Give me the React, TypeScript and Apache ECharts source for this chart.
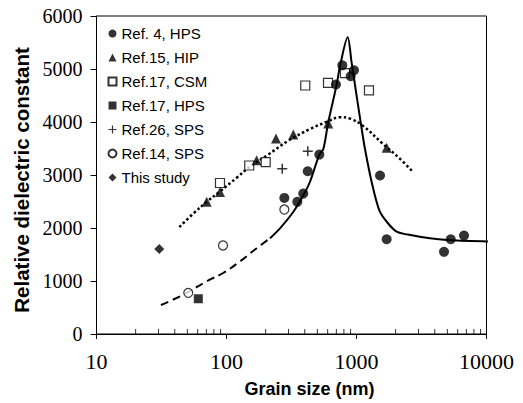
import React, { useEffect, useRef } from "react";
import * as echarts from "echarts";

const xTickLabels = [10, 100, 1000, 10000];
const minorTicks = [20, 30, 40, 50, 60, 70, 80, 90, 200, 300, 400, 500, 600, 700, 800, 900, 2000, 3000, 4000, 5000, 6000, 7000, 8000, 9000];

const ref4HPS = [[278.6, 2568], [350.6, 2493], [389.5, 2649], [421.5, 3070], [518, 3385], [695, 4708], [778, 5069], [902, 4863], [957, 4976], [1517, 2991], [1706, 1788], [4712, 1550], [5309, 1788], [6714, 1857]];
const ref15HIP = [[70.4, 2493], [89.1, 2681], [170.6, 3280], [240.3, 3688], [326.6, 3763], [606.5, 3974], [1706, 3516]];
const ref17CSM = [[89.1, 2849], [149.6, 3179], [200.2, 3242], [403.6, 4689], [603.8, 4740], [815.5, 4923], [1247, 4596]];
const ref17HPS = [[60.7, 665]];
const ref26SPS = [[268.5, 3117], [422, 3450]];
const ref14SPS = [[50.8, 777], [94, 1670], [278.6, 2349]];
const thisStudy = [[30.4, 1606]];

const curveDashed = [[31.3, 547], [39, 651], [52.4, 809], [70.4, 996], [94.4, 1151], [127, 1370], [170.6, 1619], [216, 1806]];
const curveSolid = [[216, 1806], [258, 1994], [327, 2306], [390, 2617], [438, 2868], [518, 3385], [556, 3491], [606, 3991], [704, 4708], [746, 5051], [855, 5597], [918, 5114], [1003, 4489], [1097, 3866], [1162, 3491], [1308, 2868], [1496, 2336], [1706, 2119], [2037, 1932], [2735, 1857], [3673, 1806], [4942, 1775], [10035, 1745], [19100, 1726]];
const curveDotted = [[43.4, 2018], [55.6, 2274], [70.4, 2493], [89, 2690], [120, 2950], [150, 3150], [204, 3366], [300, 3650], [438, 3866], [600, 4010], [746, 4090], [900, 4060], [1122, 3927], [1601, 3585], [2163, 3304], [2661, 3080]];

const legendNames = ["Ref. 4, HPS", "Ref.15, HIP", "Ref.17, CSM", "Ref.17, HPS", "Ref.26, SPS", "Ref.14, SPS", "This study"];

const plusPath = "path://M3.4,0H4.6V3.4H8V4.6H4.6V8H3.4V4.6H0V3.4H3.4Z";
const serif = "Liberation Serif";
const sans = "Liberation Sans";

export default function App() {
  const ref = useRef<HTMLDivElement>(null);
  useEffect(() => {
    document.body.style.margin = "0";
    const chart = echarts.init(ref.current!, null, { renderer: "svg" });
    const black = "#000";
    const option: any = {
      animation: false,
      backgroundColor: "#fff",
      textStyle: { fontFamily: sans },
      grid: { left: 96.5, right: 36.5, top: 16, bottom: 66.5, show: true, borderColor: black, borderWidth: 1, backgroundColor: "transparent" },
      legend: {
        data: legendNames,
        orient: "vertical",
        left: 102.5,
        top: 21,
        itemGap: 9,
        itemWidth: 8,
        itemHeight: 8,
        textStyle: { fontFamily: sans, fontSize: 15, color: black },
        selectedMode: false,
      },
      xAxis: {
        type: "log",
        logBase: 10,
        min: 10,
        max: 10000,
        name: "Grain size (nm)",
        nameLocation: "middle",
        nameGap: 46,
        nameTextStyle: { fontFamily: sans, fontWeight: "bold", fontSize: 18, color: black, padding: [0, 0, 0, 36] },
        axisLine: { lineStyle: { color: black, width: 1 } },
        axisTick: { inside: false, length: 5, lineStyle: { color: black } },
        axisLabel: {
          margin: 16.5,
          color: black,
          fontSize: 22,
          fontFamily: serif,
          formatter: (v: number) => (xTickLabels.includes(Math.round(v)) ? String(Math.round(v)) : ""),
        },
        splitLine: { show: false },
      },
      yAxis: {
        type: "value",
        min: 0,
        max: 6000,
        interval: 1000,
        name: "Relative dielectric constant",
        nameLocation: "middle",
        nameGap: 61,
        nameTextStyle: { fontFamily: sans, fontWeight: "bold", fontSize: 20.5, color: black, padding: [0, 10, 0, 0] },
        axisLine: { show: true, lineStyle: { color: black, width: 1 } },
        axisTick: { show: true, inside: false, length: 6, lineStyle: { color: black } },
        axisLabel: {
          margin: 14,
          color: black,
          fontSize: 20,
          fontFamily: serif,
          formatter: (v: number) => String(v),
        },
        splitLine: { show: false },
      },
      series: [
        {
          name: "minor",
          type: "scatter",
          data: minorTicks.map((v) => [v, 0]),
          symbol: "rect",
          symbolSize: [1, 5],
          symbolOffset: [0, -2.5],
          itemStyle: { color: black },
          silent: true,
          clip: false,
          z: 1,
        },
        {
          name: "dashed",
          type: "line",
          data: curveDashed,
          smooth: 0.4,
          showSymbol: false,
          lineStyle: { color: black, width: 2, type: [8, 5] },
        },
        {
          name: "solid",
          type: "line",
          data: curveSolid,
          smooth: 0.3,
          showSymbol: false,
          clip: false,
          lineStyle: { color: black, width: 2 },
        },
        {
          name: "dotted",
          type: "line",
          data: curveDotted,
          smooth: 0.4,
          showSymbol: false,
          lineStyle: { color: black, width: 2.5, type: [2.5, 2.5] },
        },
        { name: "Ref.17, CSM", type: "scatter", data: ref17CSM, symbol: "rect", symbolSize: 9, itemStyle: { color: "#fff", borderColor: black, borderWidth: 1.2 }, z: 3 },
        { name: "Ref.15, HIP", type: "scatter", data: ref15HIP, symbol: "triangle", symbolSize: 10, itemStyle: { color: black }, z: 3 },
        { name: "Ref.17, HPS", type: "scatter", data: ref17HPS, symbol: "rect", symbolSize: 9, itemStyle: { color: black }, z: 3 },
        { name: "Ref.26, SPS", type: "scatter", data: ref26SPS, symbol: plusPath, symbolSize: 10, itemStyle: { color: black }, z: 3 },
        { name: "Ref.14, SPS", type: "scatter", data: ref14SPS, symbol: "circle", symbolSize: 9, itemStyle: { color: "#fff", borderColor: black, borderWidth: 1.2 }, z: 3 },
        { name: "This study", type: "scatter", data: thisStudy, symbol: "diamond", symbolSize: 10, itemStyle: { color: black }, z: 3 },
        { name: "Ref. 4, HPS", type: "scatter", data: ref4HPS, symbol: "circle", symbolSize: 10, itemStyle: { color: black }, z: 4 },
      ],
    };
    chart.setOption(option);
    return () => chart.dispose();
  }, []);
  return <div ref={ref} style={{ position: "fixed", left: 0, top: 0, width: 523, height: 403, background: "#fff" }} />;
}
